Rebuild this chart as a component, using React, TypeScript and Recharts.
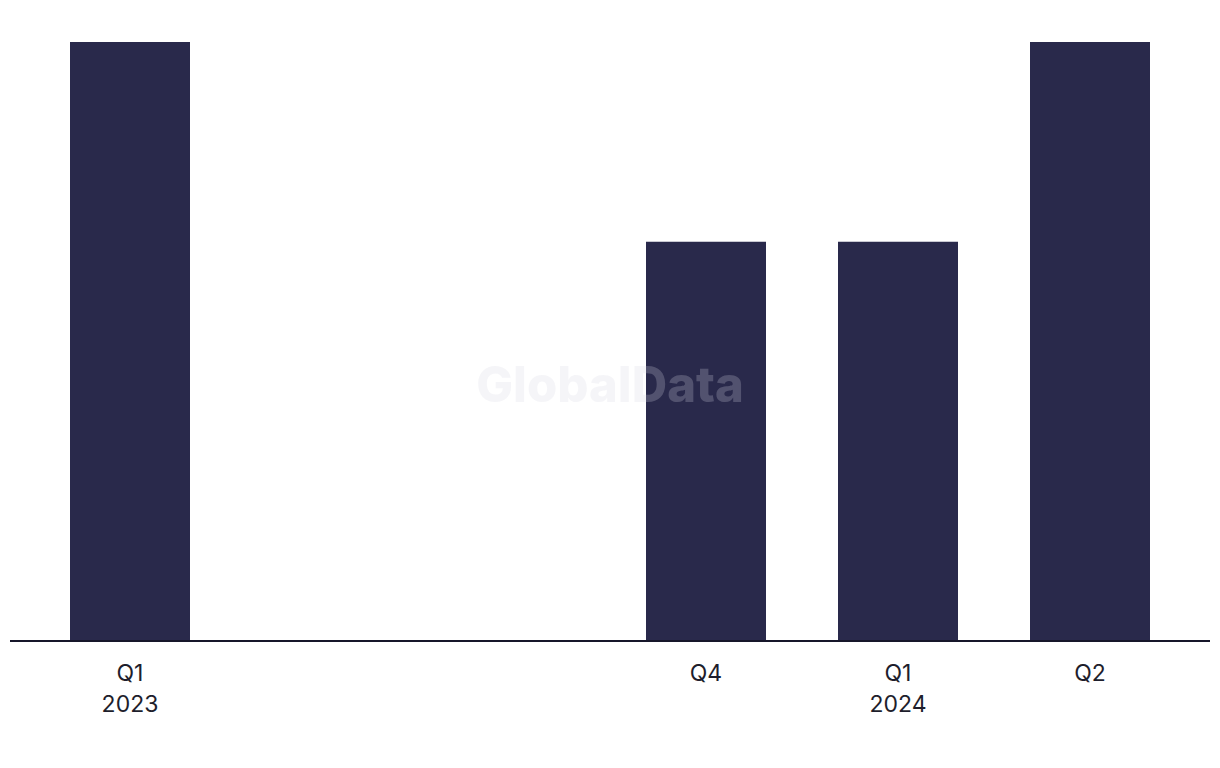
import React from "react";
import { BarChart, Bar, XAxis, YAxis } from "recharts";

const quarters = ["Q1", "Q2", "Q3", "Q4", "Q1", "Q2"];
const years = ["2023", "", "", "", "2024", ""];
const values: (number | null)[] = [3, null, null, 2, 2, 3];
const tickLabels = ["Q1", "", "", "Q4", "Q1", "Q2"];

const data = quarters.map((q, i) => ({
  key: `${q}-${i}`,
  value: values[i],
  label: tickLabels[i],
  year: years[i],
}));

const FONT = "Inter, 'Liberation Sans', Arial, sans-serif";

const Tick = (props: any) => {
  const { x, y, index } = props;
  const d = data[index];
  if (!d || !d.label) return null;
  return (
    <text x={x} y={y} textAnchor="middle" fill="#1e1e2c" fontFamily={FONT} fontSize={23}>
      <tspan x={x} dy={32}>{d.label}</tspan>
      {d.year ? <tspan x={x} dy={31}>{d.year}</tspan> : null}
    </text>
  );
};

export default function App() {
  return (
    <div style={{ position: "relative", width: 1220, height: 768, margin: -8, background: "#fff" }}>
      <BarChart
        width={1220}
        height={768}
        data={data}
        margin={{ top: 42, right: 10, bottom: 0, left: 10 }}
        barCategoryGap={36}
      >
        <XAxis
          dataKey="key"
          padding={{ left: 24, right: 24 }}
          height={127}
          axisLine={{ stroke: "#16162a", strokeWidth: 2 }}
          tickLine={false}
          tick={<Tick />}
          interval={0}
        />
        <YAxis hide domain={[0, 3]} />
        <Bar dataKey="value" fill="#29294b" isAnimationActive={false} />
      </BarChart>
      <div
        style={{
          position: "absolute",
          left: 0,
          top: 358,
          width: 1220,
          textAlign: "center",
          fontFamily: FONT,
          fontWeight: 800,
          fontSize: 49,
          lineHeight: "54px",
          color: "rgba(215,215,225,0.24)",
          pointerEvents: "none",
        }}
      >
        GlobalData
      </div>
    </div>
  );
}
